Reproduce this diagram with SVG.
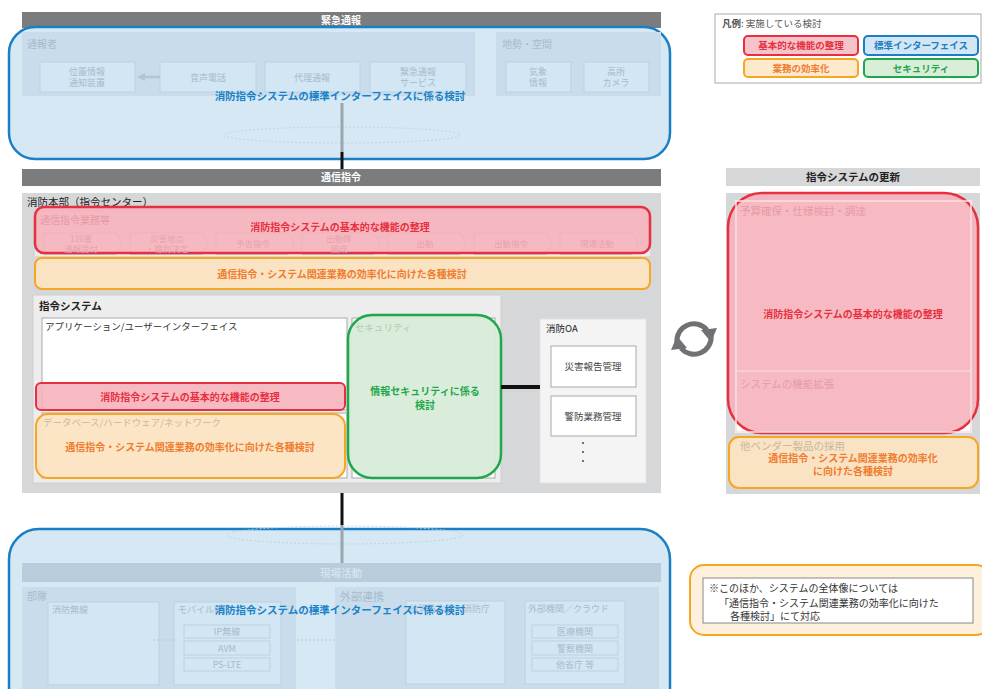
<svg xmlns="http://www.w3.org/2000/svg" width="982" height="689" viewBox="0 0 982 689">
<style>
text{font-family:"Noto Sans CJK JP","Noto Sans",sans-serif}
.hdr{fill:#7b7c7e}
.hdrt{fill:#fff;font-size:10px;font-weight:bold;text-anchor:middle}
.bluebox{fill:#d5e8f4;stroke:#1b7fc6;stroke-width:2.5}
.fpanel{fill:#c9dceb}
.fbox{fill:#d3e6f3;stroke:#bcd1e0;stroke-width:1}
.ft{fill:#a6bbcb;font-size:9px}
.ftc{fill:#a6bbcb;font-size:9px;text-anchor:middle}
.blt{fill:#1a82c8;font-size:10.5px;font-weight:bold;text-anchor:middle}
.redbox{fill:#f6b3bd;fill-opacity:0.9;stroke:#e5303f;stroke-width:2.5}
.redt{fill:#e8303f;font-size:10px;font-weight:bold;text-anchor:middle}
.rft{fill:#e59aa6;font-size:10px}
.orbox{fill:#fbe4c2;fill-opacity:0.95;stroke:#f6a623;stroke-width:2}
.ort{fill:#f07c2e;font-size:10px;font-weight:bold;text-anchor:middle}
.oft{fill:#c9b7a2;font-size:10px}
.grbox{fill:#d7ecd8;fill-opacity:0.95;stroke:#1ea84b;stroke-width:2.5}
.grt{fill:#1ea84b;font-size:10px;font-weight:bold;text-anchor:middle}
.wbox{fill:#fff;stroke:#a9a9a9;stroke-width:1}
.dk{fill:#222;font-size:10.5px}
.dkc{fill:#444;font-size:9.5px;text-anchor:middle}
.chev{fill:#efefef;stroke:#9a9a9a;stroke-width:0.8}
.cht{fill:#e6a3ad;font-size:8.5px;text-anchor:middle}
.lg{font-size:9.5px;font-weight:bold;text-anchor:middle}
.dot{fill:none;stroke:#b5c8d6;stroke-width:1;stroke-dasharray:2 2}
</style>

<g id="emergency-call">
  <rect class="hdr" x="22" y="12" width="639" height="16"/>
  <text class="hdrt" x="341" y="24">緊急通報</text>
  <rect class="bluebox" x="9" y="27" width="661" height="132" rx="26"/>
  <rect class="fpanel" x="22" y="32" width="453" height="64"/>
  <text class="ft" x="27" y="48" style="font-size:10px">通報者</text>
  <rect class="fpanel" x="496" y="32" width="165" height="64"/>
  <text class="ft" x="502" y="48" style="font-size:10px">地勢・空間</text>
  <rect class="fbox" x="40" y="62" width="95" height="30"/>
  <text class="ftc" x="87" y="75">位置情報</text>
  <text class="ftc" x="87" y="86">通知装置</text>
  <rect class="fbox" x="160" y="62" width="96" height="30"/>
  <text class="ftc" x="208" y="81">音声電話</text>
  <rect class="fbox" x="265" y="62" width="95" height="30"/>
  <text class="ftc" x="312" y="81">代理通報</text>
  <rect class="fbox" x="370" y="62" width="96" height="30"/>
  <text class="ftc" x="418" y="75">緊急通報</text>
  <text class="ftc" x="418" y="86">サービス</text>
  <rect class="fbox" x="506" y="62" width="65" height="30"/>
  <text class="ftc" x="538" y="75">気象</text>
  <text class="ftc" x="538" y="86">情報</text>
  <rect class="fbox" x="584" y="62" width="65" height="30"/>
  <text class="ftc" x="616" y="75">高所</text>
  <text class="ftc" x="616" y="86">カメラ</text>
  <line x1="160" y1="77" x2="144" y2="77" stroke="#b3c4d2" stroke-width="2.5"/>
  <polygon points="137,77 145,73 145,81" fill="#b3c4d2"/>
  <ellipse cx="342" cy="135" rx="118" ry="8" fill="none" stroke="#c3d3df" stroke-width="1" stroke-dasharray="2 2"/>
  <text class="blt" x="340" y="100">消防指令システムの標準インターフェイスに係る検討</text>
</g>

<g id="legend">
  <rect x="715" y="14" width="266" height="69" fill="#fff" stroke="#a9a9a9"/>
  <text x="722" y="27" style="font-size:9.5px;fill:#555"><tspan font-weight="bold">凡例</tspan>: 実施している検討</text>
  <rect x="744" y="36" width="114" height="19" rx="4" fill="#f6c3ca" stroke="#e5303f" stroke-width="2"/>
  <text class="lg" x="801" y="49" fill="#e5303f">基本的な機能の整理</text>
  <rect x="864" y="36" width="114" height="19" rx="4" fill="#d3e6f3" stroke="#1b7fc6" stroke-width="2"/>
  <text class="lg" x="921" y="49" fill="#1b7fc6">標準インターフェイス</text>
  <rect x="744" y="59" width="114" height="18" rx="4" fill="#fde9cc" stroke="#f6a623" stroke-width="2"/>
  <text class="lg" x="801" y="72" fill="#f07c2e">業務の効率化</text>
  <rect x="864" y="59" width="114" height="18" rx="4" fill="#d9edd9" stroke="#1ea84b" stroke-width="2"/>
  <text class="lg" x="921" y="72" fill="#1ea84b">セキュリティ</text>
</g>

<g id="dispatch-center">
  <rect class="hdr" x="22" y="169" width="639" height="17"/>
  <text class="hdrt" x="341" y="181">通信指令</text>
  <rect x="22" y="193" width="639" height="300" fill="#d6d7d9"/>
  <text class="dk" x="27" y="206">消防本部（指令センター）</text>
  <rect x="35" y="212" width="615" height="44" fill="#ececec"/>
  <g id="chevrons">
    <polygon class="chev" points="44,233 116,233 122,243.5 116,254 44,254"/>
    <polygon class="chev" points="130,233 202,233 208,243.5 202,254 130,254"/>
    <polygon class="chev" points="216,233 288,233 294,243.5 288,254 216,254"/>
    <polygon class="chev" points="302,233 374,233 380,243.5 374,254 302,254"/>
    <polygon class="chev" points="388,233 460,233 466,243.5 460,254 388,254"/>
    <polygon class="chev" points="474,233 546,233 552,243.5 546,254 474,254"/>
    <polygon class="chev" points="560,233 632,233 638,243.5 632,254 560,254"/>
  </g>
  <rect class="redbox" x="35" y="207" width="615" height="46" rx="9"/>
  <text class="rft" x="40" y="224">通信指令業務等</text>
  <text class="cht" x="81" y="242">119番</text>
  <text class="cht" x="81" y="252">通報受付</text>
  <text class="cht" x="167" y="242">災害地点</text>
  <text class="cht" x="167" y="252">・種別決定</text>
  <text class="cht" x="253" y="247">予告指令</text>
  <text class="cht" x="339" y="242">出動隊</text>
  <text class="cht" x="339" y="252">編成</text>
  <text class="cht" x="425" y="247">出動</text>
  <text class="cht" x="511" y="247">出動指令</text>
  <text class="cht" x="597" y="247">現場活動</text>
  <text class="redt" x="340" y="231">消防指令システムの基本的な機能の整理</text>
  <rect class="orbox" x="35" y="258" width="615" height="31" rx="7"/>
  <text class="ort" x="342" y="278">通信指令・システム関連業務の効率化に向けた各種検討</text>
</g>

<g id="command-system">
  <rect x="33" y="295" width="468" height="188" fill="#ededed" stroke="#d0d0d0"/>
  <text class="dk" x="39" y="310" font-weight="bold">指令システム</text>
  <rect class="wbox" x="42" y="318" width="305" height="92"/>
  <text x="45" y="330" style="font-size:9.5px;fill:#333">アプリケーション/ユーザーインターフェイス</text>
  <rect class="wbox" x="42" y="413" width="305" height="65"/>
  <rect class="redbox" x="36" y="383" width="309" height="27" rx="5" style="stroke-width:2"/>
  <text class="redt" x="190" y="401">消防指令システムの基本的な機能の整理</text>
  <rect class="orbox" x="36" y="414" width="309" height="64" rx="12"/>
  <text class="oft" x="43" y="426" style="font-size:9.5px">データベース/ハードウェア/ネットワーク</text>
  <text class="ort" x="190" y="451">通信指令・システム関連業務の効率化に向けた各種検討</text>
</g>

<g id="security">
  <rect class="wbox" x="352" y="318" width="143" height="160"/>
  <rect class="grbox" x="348" y="315" width="153" height="163" rx="24"/>
  <text x="355" y="331" style="font-size:9.5px;fill:#b3c9b3">セキュリティ</text>
  <text class="grt" x="425" y="395">情報セキュリティに係る</text>
  <text class="grt" x="425" y="409">検討</text>
</g>

<g id="fire-oa">
  <rect x="540" y="319" width="106" height="164" fill="#f4f4f4" stroke="#e2e2e2"/>
  <text x="546" y="332" style="font-size:9.5px;fill:#222">消防OA</text>
  <rect class="wbox" x="551" y="346" width="85" height="41"/>
  <text class="dkc" x="593" y="370">災害報告管理</text>
  <rect class="wbox" x="551" y="396" width="85" height="40"/>
  <text class="dkc" x="593" y="420">警防業務管理</text>
  <circle cx="583" cy="443" r="1.1" fill="#555"/>
  <circle cx="583" cy="452" r="1.1" fill="#555"/>
  <circle cx="583" cy="461" r="1.1" fill="#555"/>
</g>

<g id="system-update">
  <rect x="726" y="168" width="254" height="18" fill="#d6d7d9"/>
  <text x="853" y="181" style="font-size:10.5px;font-weight:bold;fill:#222;text-anchor:middle">指令システムの更新</text>
  <rect x="726" y="193" width="254" height="301" fill="#d6d7d9"/>
  <rect x="735" y="200" width="237" height="233" fill="#fff"/>
  <rect class="redbox" x="728" y="193" width="250" height="240" rx="34"/>
  <rect x="736" y="201" width="235" height="231" fill="none" stroke="#fadfe3" stroke-width="1.5"/>
  <line x1="737" y1="371" x2="970" y2="371" stroke="#f9d3d8" stroke-width="1.5"/>
  <text class="rft" x="740" y="215" style="font-size:10.5px">予算確保・仕様検討・調達</text>
  <text class="rft" x="740" y="388" style="font-size:10.5px">システムの機能拡張</text>
  <text class="redt" x="853" y="318">消防指令システムの基本的な機能の整理</text>
  <rect class="orbox" x="729" y="437" width="249" height="51" rx="10"/>
  <text class="oft" x="740" y="450" style="font-size:10.5px">他ベンダー製品の採用</text>
  <text class="ort" x="853" y="462">通信指令・システム関連業務の効率化</text>
  <text class="ort" x="853" y="475">に向けた各種検討</text>
</g>

<g id="cycle-icon" fill="none" stroke="#6f7174" stroke-width="5">
  <path d="M677,343 A17,17 0 0 1 707,330"/>
  <polygon points="701,330 717,328 711,342" fill="#6f7174" stroke="none"/>
  <path d="M711,335 A17,17 0 0 1 681,348"/>
  <polygon points="687,348 671,350 677,336" fill="#6f7174" stroke="none"/>
</g>

<g id="field-activity">
  <rect class="bluebox" x="9" y="529" width="661" height="200" rx="30"/>
  <ellipse cx="345" cy="535" rx="118" ry="9" fill="none" stroke="#c3d3df" stroke-width="1" stroke-dasharray="2 2"/>
  <rect x="22" y="563" width="639" height="19" fill="#b9ccdb"/>
  <text x="341" y="577" style="font-size:10.5px;fill:#dde9f2;text-anchor:middle">現場活動</text>
  <rect class="fpanel" x="22" y="587" width="274" height="110"/>
  <text class="ft" x="27" y="600" style="font-size:10px">部隊</text>
  <rect class="fpanel" x="335" y="587" width="324" height="110"/>
  <text class="ft" x="340" y="601" style="font-size:11px">外部連携</text>
  <rect class="fbox" x="48" y="602" width="111" height="83"/>
  <text class="ft" x="52" y="613">消防無線</text>
  <rect class="fbox" x="174" y="602" width="107" height="83"/>
  <text class="ft" x="178" y="613">モバイル網</text>
  <rect class="fbox" x="184" y="625" width="86" height="13"/>
  <text class="ftc" x="227" y="635">IP無線</text>
  <rect class="fbox" x="184" y="641" width="86" height="14"/>
  <text class="ftc" x="227" y="652">AVM</text>
  <rect class="fbox" x="184" y="658" width="86" height="13"/>
  <text class="ftc" x="227" y="668">PS-LTE</text>
  <line class="dot" x1="153" y1="640" x2="176" y2="640"/>
  <line class="dot" x1="297" y1="640" x2="334" y2="640"/>
  <rect class="fbox" x="406" y="601" width="99" height="83"/>
  <text class="ft" x="409" y="612">他消防本部／消防庁</text>
  <rect class="fbox" x="525" y="601" width="100" height="83"/>
  <text class="ft" x="528" y="612">外部機関／クラウド</text>
  <rect class="fbox" x="532" y="625" width="86" height="13"/>
  <text class="ftc" x="575" y="635">医療機関</text>
  <rect class="fbox" x="532" y="641" width="86" height="14"/>
  <text class="ftc" x="575" y="652">警察機関</text>
  <rect class="fbox" x="532" y="658" width="86" height="13"/>
  <text class="ftc" x="575" y="668">他省庁 等</text>
  <text class="blt" x="340" y="614">消防指令システムの標準インターフェイスに係る検討</text>
</g>

<g id="note">
  <rect x="690" y="565" width="300" height="70" rx="14" fill="#fdf0dc" stroke="#f6a623" stroke-width="2"/>
  <rect x="703" y="578" width="270" height="45" fill="#fff" stroke="#888"/>
  <text x="709" y="592" style="font-size:10px;fill:#333">※このほか、システムの全体像については</text>
  <text x="719" y="607" style="font-size:10px;fill:#333">「通信指令・システム関連業務の効率化に向けた</text>
  <text x="730" y="620" style="font-size:10px;fill:#333">各種検討」にて対応</text>
</g>

<g id="connectors">
  <line x1="342" y1="103" x2="342" y2="152" stroke="#9aa6af" stroke-width="3"/>
  <line x1="342" y1="152" x2="342" y2="169" stroke="#111" stroke-width="3"/>
  <line x1="501" y1="387" x2="540" y2="387" stroke="#111" stroke-width="4"/>
  <line x1="342" y1="493" x2="342" y2="525" stroke="#111" stroke-width="3"/>
  <line x1="342" y1="525" x2="342" y2="563" stroke="#9aa6af" stroke-width="3"/>
</g>
</svg>
